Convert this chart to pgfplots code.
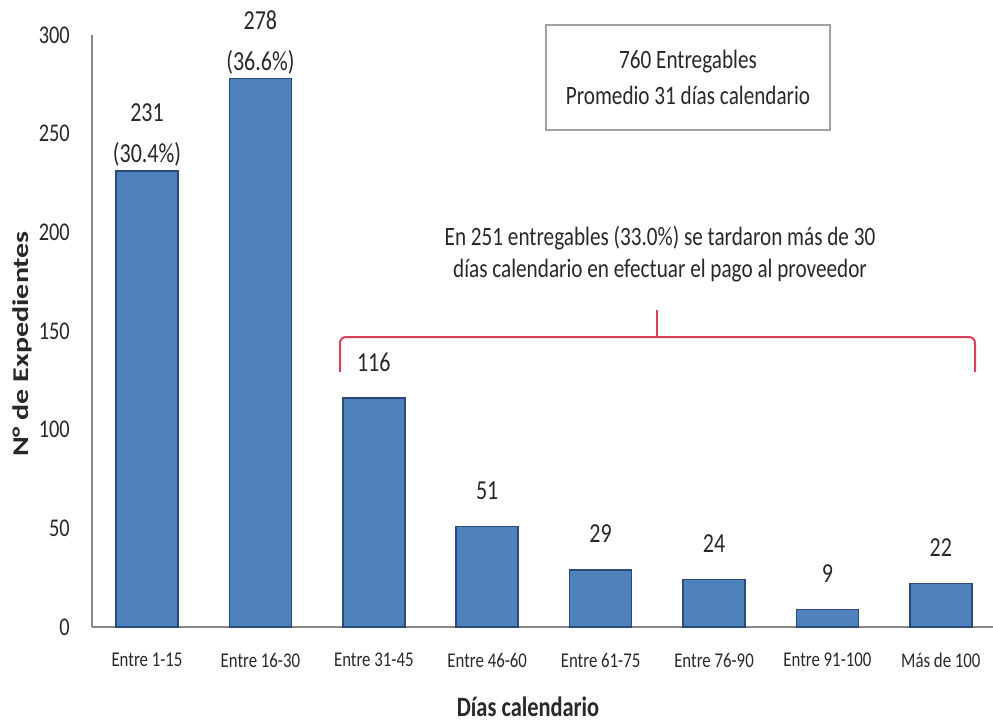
\documentclass[border=0pt]{standalone}
\usepackage{pgfplots}
\pgfplotsset{compat=1.18}
\usepackage{fontspec}
\setmainfont{Carlito}[FakeStretch=0.8]
\newfontfamily\ylabfont{Carlito}
\definecolor{barblue}{RGB}{79,129,189}
\definecolor{baredge}{RGB}{44,74,120}
\definecolor{txt}{RGB}{40,40,40}
\definecolor{axgray}{RGB}{135,135,135}
\definecolor{boxgray}{RGB}{160,160,160}
\definecolor{bracered}{RGB}{218,66,92}
\begin{document}
\begin{tikzpicture}
\useasboundingbox (0,0) rectangle (993pt,-724pt);
\begin{axis}[
  at={(92pt,-627pt)}, anchor=south west,
  scale only axis, width=901pt, height=592pt,
  xmin=-0.485, xmax=7.46, ymin=0, ymax=300,
  axis x line*=bottom, axis y line*=left,
  axis line style={draw=axgray, line width=2pt, -},
  major tick length=0pt,
  xtick={0,...,7},
  xticklabels={Entre 1-15, Entre 16-30, Entre 31-45, Entre 46-60, Entre 61-75, Entre 76-90, Entre 91-100, Más de 100},
  ytick={0,50,...,300},
  xticklabel style={font=\fontsize{21}{24}\selectfont, text=txt, anchor=center, inner sep=0pt, yshift=-33pt},
  yticklabel style={font=\fontsize{25.5}{28}\selectfont, text=txt, anchor=east, inner sep=0pt, xshift=-22pt},
  /pgf/number format/assume math mode=true,
  clip=false,
]
\addplot[ybar, bar width=62pt, fill=barblue, draw=baredge, line width=1.5pt,
  nodes near coords, point meta=explicit symbolic,
  every node near coord/.append style={font=\fontsize{27.5}{41}\selectfont, text=txt, anchor=center, yshift=36pt, align=center}]
  coordinates {(0,231)[{231\\(30.4\%)}] (1,278)[{278\\(36.6\%)}] (2,116)[116] (3,51)[51] (4,29)[29] (5,24)[24] (6,9)[9] (7,22)[22]};
\end{axis}
\draw[bracered, line width=2pt, rounded corners=6pt] (340pt,-372pt) |- (975pt,-337pt) -- (975pt,-372pt);
\draw[bracered, line width=2pt] (657pt,-337pt) -- (657pt,-310pt);
\node[text=txt, font=\fontsize{26.5}{32}\selectfont, align=center] at (660pt,-254pt) {En 251 entregables (33.0\%) se tardaron más de 30\\días calendario en efectuar el pago al proveedor};
\node[draw=boxgray, line width=1.5pt, minimum width=284pt, minimum height=105pt, align=center, text=txt, font=\fontsize{26.5}{36}\selectfont] at (688pt,-77.5pt) {760 Entregables\\Promedio 31 días calendario};
\node[text=txt, font=\bfseries\fontsize{28}{30}\selectfont] at (528pt,-707pt) {Días calendario};
\node[text=txt, font=\ylabfont\bfseries\fontsize{30}{34}\selectfont, rotate=90, yscale=0.75, transform shape] at (22pt,-344pt) {N° de Expedientes};
\end{tikzpicture}
\end{document}
